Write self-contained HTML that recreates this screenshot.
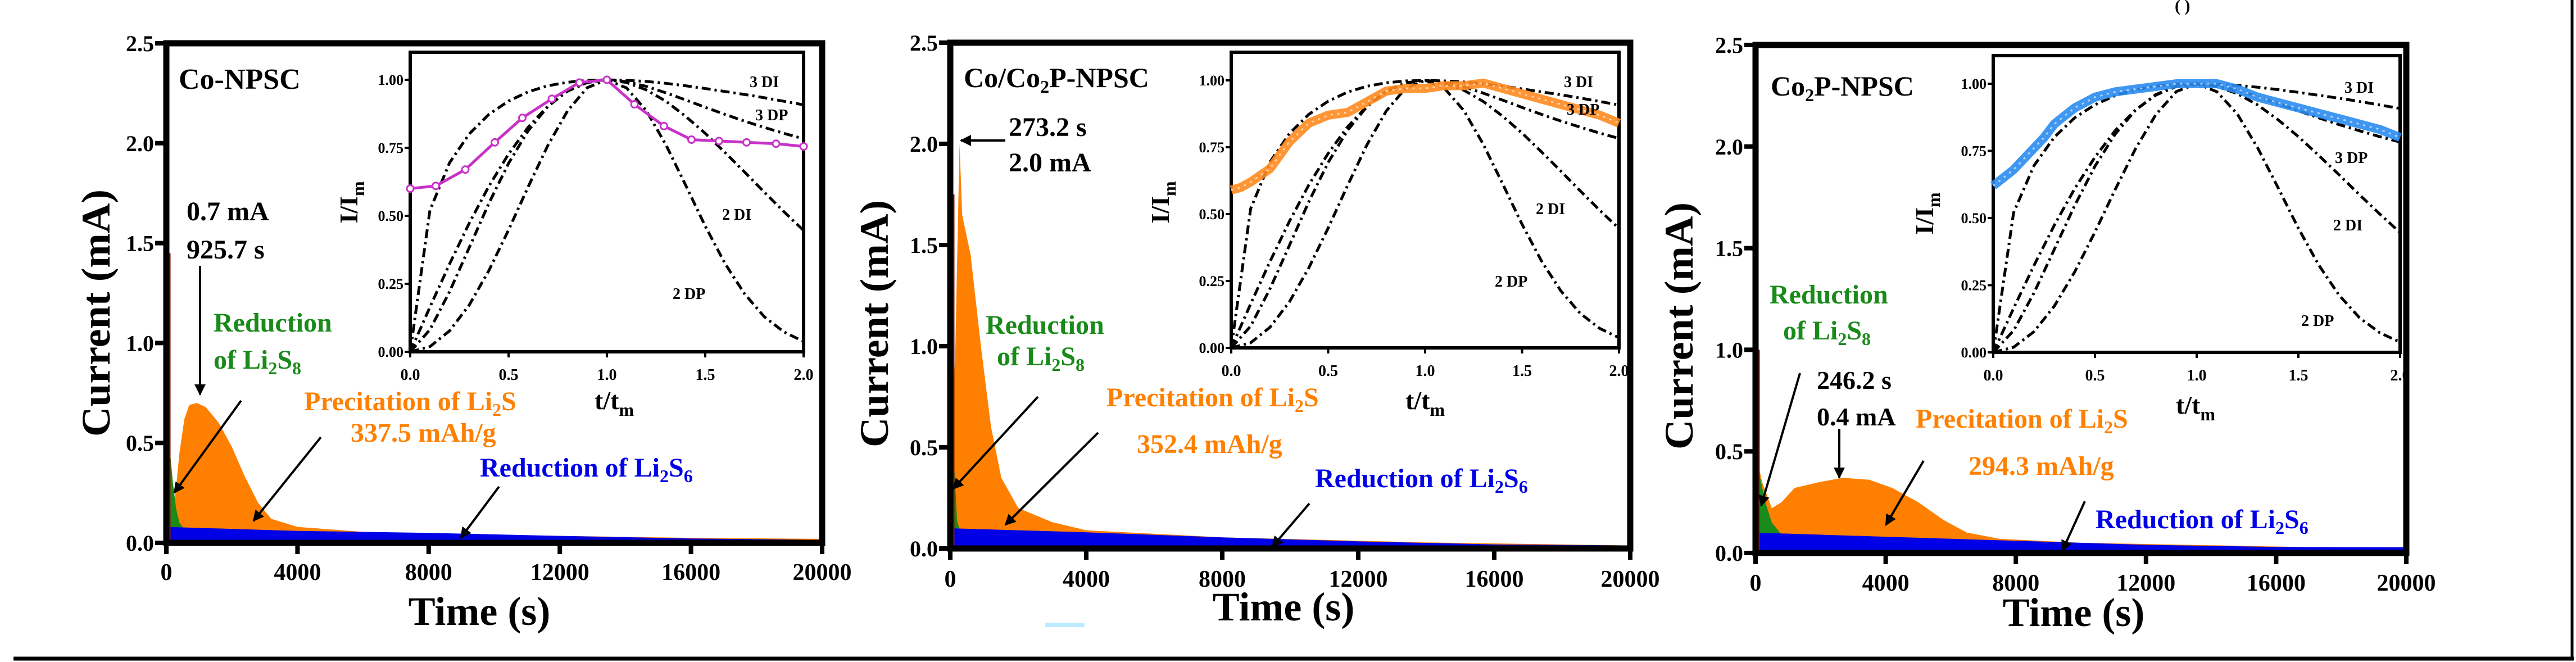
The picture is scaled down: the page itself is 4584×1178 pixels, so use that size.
<!DOCTYPE html>
<html><head><meta charset="utf-8"><style>
html,body{margin:0;padding:0;background:#fff;}
svg{display:block;}
text{font-family:"Liberation Serif",serif;font-weight:bold;}
</style></head><body>
<svg id="fig" width="4584" height="1178" viewBox="0 0 4584 1178" xmlns="http://www.w3.org/2000/svg">
<rect x="0" y="0" width="4584" height="1178" fill="#fff"/>
<g id="root"></g>
</svg>
<script>
// ---------- data ----------
const tickX = [0, 4000, 8000, 12000, 16000, 20000];
const tickXLabels = ["0", "4000", "8000", "12000", "16000", "20000"];
const tickY = [0, 0.5, 1.0, 1.5, 2.0, 2.5];
const tickYLabels = ["0.0", "0.5", "1.0", "1.5", "2.0", "2.5"];
const insetTickX = [0, 0.5, 1.0, 1.5, 2.0];
const insetTickXLabels = ["0.0", "0.5", "1.0", "1.5", "2.0"];
const insetTickY = [0, 0.25, 0.5, 0.75, 1.0];
const insetTickYLabels = ["0.00", "0.25", "0.50", "0.75", "1.00"];

// panel 1 (Co-NPSC)
const p1OrangeT = [0, 250, 400, 550, 700, 925, 1200, 1600, 2000, 2400, 2800, 3200, 4000, 6000, 10000, 16000, 20000];
const p1OrangeI = [0.3, 0.2, 0.45, 0.62, 0.69, 0.7, 0.68, 0.6, 0.48, 0.33, 0.2, 0.12, 0.08, 0.055, 0.04, 0.025, 0.02];
const p1GreenT = [0, 50, 100, 200, 300, 400, 500];
const p1GreenI = [1.0, 0.65, 0.48, 0.3, 0.17, 0.1, 0.08];
const p1BlueT = [0, 4000, 8000, 12000, 16000, 20000];
const p1BlueI = [0.08, 0.06, 0.05, 0.035, 0.022, 0.015];
const p1Spike = 1.45;
const p1ExpU = [0, 0.13, 0.28, 0.43, 0.57, 0.72, 0.86, 1.0, 1.14, 1.29, 1.43, 1.57, 1.71, 1.86, 2.0];
const p1ExpV = [0.6, 0.61, 0.67, 0.77, 0.86, 0.93, 0.99, 1.0, 0.91, 0.83, 0.78, 0.775, 0.77, 0.765, 0.755];

// panel 2 (Co/Co2P-NPSC)
const p2OrangeT = [0, 150, 273, 350, 600, 900, 1200, 1500, 2000, 3000, 4000, 8000, 14000, 20000];
const p2OrangeI = [0.3, 1.0, 2.0, 1.65, 1.45, 1.0, 0.6, 0.35, 0.2, 0.13, 0.09, 0.055, 0.03, 0.015];
const p2GreenT = [0, 60, 120, 200, 260];
const p2GreenI = [1.7, 1.0, 0.4, 0.14, 0.1];
const p2BlueT = [0, 4000, 8000, 12000, 16000, 20000];
const p2BlueI = [0.1, 0.08, 0.055, 0.035, 0.02, 0.015];
const p2Spike = 1.75;
const p2ExpU = [0, 0.05, 0.1, 0.2, 0.3, 0.4, 0.5, 0.6, 0.7, 0.8, 0.9, 1.0, 1.1, 1.2, 1.3, 1.4, 1.5, 1.6, 1.7, 1.8, 1.9, 2.0];
const p2ExpV = [0.59, 0.6, 0.62, 0.67, 0.77, 0.84, 0.87, 0.88, 0.92, 0.96, 0.97, 0.97, 0.98, 0.98, 0.99, 0.97, 0.95, 0.93, 0.91, 0.89, 0.87, 0.84];

// panel 3 (Co2P-NPSC)
const p3OrangeT = [0, 200, 500, 800, 1200, 2000, 2700, 3500, 4200, 5000, 5800, 6500, 7500, 10000, 20000];
const p3OrangeI = [0.5, 0.35, 0.22, 0.25, 0.32, 0.35, 0.37, 0.36, 0.32, 0.25, 0.16, 0.1, 0.07, 0.05, 0.02];
const p3GreenT = [0, 100, 300, 500, 800];
const p3GreenI = [0.5, 0.4, 0.25, 0.15, 0.09];
const p3BlueT = [0, 4000, 8000, 12000, 16000, 20000];
const p3BlueI = [0.1, 0.08, 0.06, 0.04, 0.03, 0.028];
const p3Spike = 1.0;
const p3ExpU = [0, 0.05, 0.1, 0.15, 0.2, 0.25, 0.3, 0.35, 0.4, 0.45, 0.5, 0.6, 0.7, 0.8, 0.9, 1.0, 1.1, 1.2, 1.3, 1.4, 1.5, 1.6, 1.7, 1.8, 1.9, 2.0];
const p3ExpV = [0.62, 0.65, 0.68, 0.72, 0.76, 0.8, 0.85, 0.88, 0.91, 0.93, 0.95, 0.97, 0.98, 0.99, 1.0, 1.0, 1.0, 0.98, 0.95, 0.93, 0.91, 0.89, 0.87, 0.85, 0.83, 0.8];

// theoretical nucleation models (values read at u = 0..2 step 0.1)
const modelU = [0, 0.1, 0.2, 0.3, 0.4, 0.5, 0.6, 0.7, 0.8, 0.9, 1.0, 1.1, 1.2, 1.3, 1.4, 1.5, 1.6, 1.7, 1.8, 1.9, 2.0];
const model3DI = [0, 0.52, 0.695, 0.801, 0.873, 0.922, 0.956, 0.978, 0.991, 0.998, 1.0, 0.998, 0.994, 0.987, 0.978, 0.968, 0.957, 0.946, 0.934, 0.921, 0.908];
const model3DP = [0, 0.081, 0.221, 0.383, 0.546, 0.693, 0.813, 0.902, 0.96, 0.991, 1.0, 0.993, 0.976, 0.952, 0.926, 0.899, 0.873, 0.848, 0.825, 0.803, 0.783];
const model2DI = [0, 0.164, 0.323, 0.473, 0.609, 0.727, 0.826, 0.903, 0.958, 0.99, 1.0, 0.99, 0.963, 0.921, 0.866, 0.803, 0.733, 0.661, 0.587, 0.515, 0.446];
const model2DP = [0, 0.019, 0.077, 0.172, 0.299, 0.448, 0.607, 0.759, 0.886, 0.971, 1.0, 0.97, 0.887, 0.761, 0.613, 0.462, 0.325, 0.213, 0.129, 0.073, 0.038];

// ---------- drawing ----------
const NS = "http://www.w3.org/2000/svg";
const root = document.getElementById("root");
function mk(tag, attrs, parent) {
  const e = document.createElementNS(NS, tag);
  for (const k in attrs) e.setAttribute(k, attrs[k]);
  (parent || root).appendChild(e);
  return e;
}

const panels = [
  {id: "p1", x0: 296, x1: 1463, yTop: 77, yBot: 966, ix0: 730, ix1: 1430, iyTop: 93, iy100: 142, iy0: 626,
   oT: p1OrangeT, oI: p1OrangeI, gT: p1GreenT, gI: p1GreenI, bT: p1BlueT, bI: p1BlueI, spike: p1Spike,
   eU: p1ExpU, eV: p1ExpV, eColor: "#c832c8", eStyle: "line", tickBase: 1032, titleX: 853, titleY: 1112, ylabX: 171, ylabY: 557},
  {id: "p2", x0: 1691, x1: 2901, yTop: 76, yBot: 976, ix0: 2191, ix1: 2881, iyTop: 93, iy100: 143, iy0: 619,
   oT: p2OrangeT, oI: p2OrangeI, gT: p2GreenT, gI: p2GreenI, bT: p2BlueT, bI: p2BlueI, spike: p2Spike,
   eU: p2ExpU, eV: p2ExpV, eColor: "#ff8a1e", eStyle: "dense", tickBase: 1044, titleX: 2284, titleY: 1104, ylabX: 1556, ylabY: 576},
  {id: "p3", x0: 3124, x1: 4282, yTop: 80, yBot: 984, ix0: 3547, ix1: 4271, iyTop: 99, iy100: 149, iy0: 627,
   oT: p3OrangeT, oI: p3OrangeI, gT: p3GreenT, gI: p3GreenI, bT: p3BlueT, bI: p3BlueI, spike: p3Spike,
   eU: p3ExpU, eV: p3ExpV, eColor: "#2a8cf0", eStyle: "dense", tickBase: 1051, titleX: 3690, titleY: 1114, ylabX: 2988, ylabY: 580}
];

function areaPath(T, I, sx, sy) {
  let d = "M" + sx(T[0]) + "," + sy(0);
  for (let i = 0; i < T.length; i++) d += " L" + sx(T[i]).toFixed(1) + "," + sy(I[i]).toFixed(1);
  d += " L" + sx(T[T.length - 1]).toFixed(1) + "," + sy(0) + " Z";
  return d;
}
function linePath(U, V, sx, sy) {
  let d = "";
  for (let i = 0; i < U.length; i++) d += (i ? " L" : "M") + sx(U[i]).toFixed(1) + "," + sy(V[i]).toFixed(1);
  return d;
}

panels.forEach(P => {
  const g = mk("g", {});
  
  
  const sx = t => P.x0 + t / 20000 * (P.x1 - P.x0);
  const sy = v => P.yBot - v / 2.5 * (P.yBot - P.yTop);

  const orange = mk("path", {d: areaPath(P.oT, P.oI, sx, sy), fill: "#ff8000"}, g);
  
  
  const green = mk("path", {d: areaPath(P.gT, P.gI, sx, sy), fill: "#1a8a1a"}, g);
  
  
  const blue = mk("path", {d: areaPath(P.bT, P.bI, sx, sy), fill: "#0000e6"}, g);
  
  
  const spike = mk("line", {x1: sx(0) + 6, x2: sx(0) + 6, y1: sy(0), y2: sy(P.spike), stroke: "#8b1a00", "stroke-width": 3}, g);
  
  

  const fr = mk("rect", {x: P.x0, y: P.yTop, width: P.x1 - P.x0, height: P.yBot - P.yTop, fill: "none", stroke: "#000", "stroke-width": 11}, g);
  
  

  tickY.forEach((v, i) => {
    const tk = mk("line", {x1: P.x0 - 20, x2: P.x0, y1: sy(v), y2: sy(v), stroke: "#000", "stroke-width": 8}, g);
    
    
    const tl = mk("text", {x: P.x0 - 22, y: sy(v) + 14, "text-anchor": "end", "font-size": 40}, g);
    tl.textContent = tickYLabels[i];
    
    
  });
  tickX.forEach((t, i) => {
    const tk = mk("line", {x1: sx(t), x2: sx(t), y1: P.yBot, y2: P.yBot + 20, stroke: "#000", "stroke-width": 8}, g);
    
    
    const tl = mk("text", {x: sx(t), y: P.tickBase, "text-anchor": "middle", "font-size": 42}, g);
    tl.textContent = tickXLabels[i];
    
    
  });
  const xt = mk("text", {x: P.titleX, y: P.titleY, "text-anchor": "middle", "font-size": 72}, g);
  xt.textContent = "Time (s)";
  
  
  const yt = mk("text", {x: 0, y: 0, "text-anchor": "middle", "font-size": 72, textLength: 440, lengthAdjust: "spacingAndGlyphs",
    transform: "translate(" + (P.ylabX + 24) + "," + P.ylabY + ") rotate(-90)"}, g);
  yt.textContent = "Current (mA)";
  
  

  const X = u => P.ix0 + u / 2 * (P.ix1 - P.ix0);
  const Y = v => P.iy0 - v * (P.iy0 - P.iy100);
  const ig = mk("g", {}, g);
  
  
  const ir = mk("rect", {x: P.ix0, y: P.iyTop, width: P.ix1 - P.ix0, height: P.iy0 - P.iyTop, fill: "#fff", stroke: "#000", "stroke-width": 6}, ig);
  
  
  const models = [["3DI", model3DI], ["3DP", model3DP], ["2DI", model2DI], ["2DP", model2DP]];
  models.forEach(m => {
    const p = mk("path", {d: linePath(modelU, m[1], X, Y), fill: "none", stroke: "#000", "stroke-width": 5, "stroke-dasharray": "16 7 4 7"}, ig);
    
    
  });
  if (P.eStyle === "line") {
    const el = mk("path", {d: linePath(P.eU, P.eV, X, Y), fill: "none", stroke: P.eColor, "stroke-width": 5}, ig);
    
    
    P.eU.forEach((u, i) => {
      const c = mk("circle", {cx: X(u), cy: Y(P.eV[i]), r: 6, fill: "#fff", stroke: P.eColor, "stroke-width": 3}, ig);
      
      
    });
  } else {
    const el = mk("path", {d: linePath(P.eU, P.eV, X, Y), fill: "none", stroke: P.eColor, "stroke-width": 16, "stroke-linejoin": "round", opacity: 0.9}, ig);
    
    
    const el2 = mk("path", {d: linePath(P.eU, P.eV, X, Y), fill: "none", stroke: "#fff", "stroke-width": 3, "stroke-dasharray": "4 8", opacity: 0.6}, ig);
    
    
  }
  insetTickY.forEach((v, i) => {
    const tk = mk("line", {x1: P.ix0 - 10, x2: P.ix0, y1: Y(v), y2: Y(v), stroke: "#000", "stroke-width": 4}, ig);
    
    
    const tl = mk("text", {x: P.ix0 - 12, y: Y(v) + 9, "text-anchor": "end", "font-size": 26}, ig);
    tl.textContent = insetTickYLabels[i];
    
    
  });
  insetTickX.forEach((u, i) => {
    const tk = mk("line", {x1: X(u), x2: X(u), y1: P.iy0, y2: P.iy0 + 10, stroke: "#000", "stroke-width": 4}, ig);
    
    
    const tl = mk("text", {x: X(u), y: P.iy0 + 50, "text-anchor": "middle", "font-size": 28}, ig);
    tl.textContent = insetTickXLabels[i];
    
    
  });
});
</script>

<svg style="position:absolute;left:0;top:0" width="4584" height="1178" viewBox="0 0 4584 1178" xmlns="http://www.w3.org/2000/svg">
<defs><marker id="ah" viewBox="0 0 10 10" refX="9" refY="5" markerWidth="5" markerHeight="5" orient="auto"><path d="M0,0 L10,5 L0,10 Z" fill="#000"/></marker></defs>
<g font-family="Liberation Serif, serif" font-weight="bold">
<!-- panel 1 -->
<text x="318" y="158" font-size="52">Co-NPSC</text>
<text x="332" y="392" font-size="48">0.7 mA</text>
<text x="332" y="460" font-size="48">925.7 s</text>
<text x="380" y="590" font-size="48" fill="#1a8a1a">Reduction</text>
<text x="380" y="656" font-size="48" fill="#1a8a1a">of Li<tspan font-size="32" dy="10">2</tspan><tspan dy="-10">S</tspan><tspan font-size="32" dy="10">8</tspan></text>
<text x="541" y="730" font-size="48" fill="#ff8000">Precitation of Li<tspan font-size="32" dy="10">2</tspan><tspan dy="-10">S</tspan></text>
<text x="624" y="786" font-size="48" fill="#ff8000">337.5 mAh/g</text>
<text x="854" y="848" font-size="48" fill="#0000e6">Reduction of Li<tspan font-size="32" dy="10">2</tspan><tspan dy="-10">S</tspan><tspan font-size="32" dy="10">6</tspan></text>
<line x1="356" y1="473" x2="356" y2="702" stroke="#000" stroke-width="4" marker-end="url(#ah)"/>
<line x1="429" y1="713" x2="310" y2="877" stroke="#000" stroke-width="4" marker-end="url(#ah)"/>
<line x1="571" y1="778" x2="451" y2="927" stroke="#000" stroke-width="4" marker-end="url(#ah)"/>
<line x1="888" y1="866" x2="820" y2="957" stroke="#000" stroke-width="4" marker-end="url(#ah)"/>
<text x="1334" y="155" font-size="28">3 DI</text>
<text x="1344" y="214" font-size="28">3 DP</text>
<text x="1285" y="391" font-size="28">2 DI</text>
<text x="1197" y="532" font-size="28">2 DP</text>
<text x="1058" y="728" font-size="46">t/t<tspan font-size="32" dy="12">m</tspan></text>
<text transform="translate(636,360) rotate(-90)" text-anchor="middle" font-size="46">I/I<tspan font-size="32" dy="12">m</tspan></text>
<!-- panel 2 -->
<text x="1715" y="155" font-size="50">Co/Co<tspan font-size="32" dy="10">2</tspan><tspan dy="-10">P-NPSC</tspan></text>
<text x="1795" y="242" font-size="48">273.2 s</text>
<text x="1795" y="305" font-size="48">2.0 mA</text>
<line x1="1789" y1="250" x2="1710" y2="250" stroke="#000" stroke-width="4" marker-end="url(#ah)"/>
<text x="1754" y="594" font-size="48" fill="#1a8a1a">Reduction</text>
<text x="1774" y="650" font-size="48" fill="#1a8a1a">of Li<tspan font-size="32" dy="10">2</tspan><tspan dy="-10">S</tspan><tspan font-size="32" dy="10">8</tspan></text>
<text x="1969" y="723" font-size="48" fill="#ff8000">Precitation of Li<tspan font-size="32" dy="10">2</tspan><tspan dy="-10">S</tspan></text>
<text x="2023" y="806" font-size="48" fill="#ff8000">352.4 mAh/g</text>
<text x="2340" y="867" font-size="48" fill="#0000e6">Reduction of Li<tspan font-size="32" dy="10">2</tspan><tspan dy="-10">S</tspan><tspan font-size="32" dy="10">6</tspan></text>
<line x1="1847" y1="706" x2="1696" y2="870" stroke="#000" stroke-width="4" marker-end="url(#ah)"/>
<line x1="1954" y1="770" x2="1789" y2="934" stroke="#000" stroke-width="4" marker-end="url(#ah)"/>
<line x1="2330" y1="896" x2="2264" y2="973" stroke="#000" stroke-width="4" marker-end="url(#ah)"/>
<text x="2783" y="155" font-size="28">3 DI</text>
<text x="2788" y="204" font-size="28">3 DP</text>
<text x="2733" y="381" font-size="28">2 DI</text>
<text x="2660" y="510" font-size="28">2 DP</text>
<text x="2501" y="728" font-size="46">t/t<tspan font-size="32" dy="12">m</tspan></text>
<text transform="translate(2080,360) rotate(-90)" text-anchor="middle" font-size="46">I/I<tspan font-size="32" dy="12">m</tspan></text>
<rect x="1860" y="1108" width="70" height="8" fill="#9fe3ff" opacity="0.7"/>
<!-- panel 3 -->
<text x="3151" y="170" font-size="50">Co<tspan font-size="32" dy="10">2</tspan><tspan dy="-10">P-NPSC</tspan></text>
<text x="3149" y="540" font-size="48" fill="#1a8a1a">Reduction</text>
<text x="3173" y="604" font-size="48" fill="#1a8a1a">of Li<tspan font-size="32" dy="10">2</tspan><tspan dy="-10">S</tspan><tspan font-size="32" dy="10">8</tspan></text>
<text x="3233" y="692" font-size="46">246.2 s</text>
<text x="3233" y="757" font-size="46">0.4 mA</text>
<text x="3409" y="761" font-size="48" fill="#ff8000">Precitation of Li<tspan font-size="32" dy="10">2</tspan><tspan dy="-10">S</tspan></text>
<text x="3503" y="845" font-size="48" fill="#ff8000">294.3 mAh/g</text>
<text x="3729" y="940" font-size="48" fill="#0000e6">Reduction of Li<tspan font-size="32" dy="10">2</tspan><tspan dy="-10">S</tspan><tspan font-size="32" dy="10">6</tspan></text>
<line x1="3203" y1="664" x2="3134" y2="900" stroke="#000" stroke-width="4" marker-end="url(#ah)"/>
<line x1="3273" y1="763" x2="3273" y2="850" stroke="#000" stroke-width="4" marker-end="url(#ah)"/>
<line x1="3423" y1="820" x2="3356" y2="934" stroke="#000" stroke-width="4" marker-end="url(#ah)"/>
<line x1="3710" y1="892" x2="3670" y2="980" stroke="#000" stroke-width="4" marker-end="url(#ah)"/>
<text x="4172" y="165" font-size="28">3 DI</text>
<text x="4155" y="290" font-size="28">3 DP</text>
<text x="4152" y="410" font-size="28">2 DI</text>
<text x="4095" y="580" font-size="28">2 DP</text>
<text x="3872" y="736" font-size="46">t/t<tspan font-size="32" dy="12">m</tspan></text>
<text transform="translate(3440,380) rotate(-90)" text-anchor="middle" font-size="46">I/I<tspan font-size="32" dy="12">m</tspan></text>
<text x="3870" y="20" font-size="30">(   )</text>
</g>
<line x1="24" y1="1172" x2="4580" y2="1172" stroke="#000" stroke-width="7"/>
<line x1="4577" y1="0" x2="4577" y2="1175" stroke="#000" stroke-width="5"/>
</svg>
</body></html>
